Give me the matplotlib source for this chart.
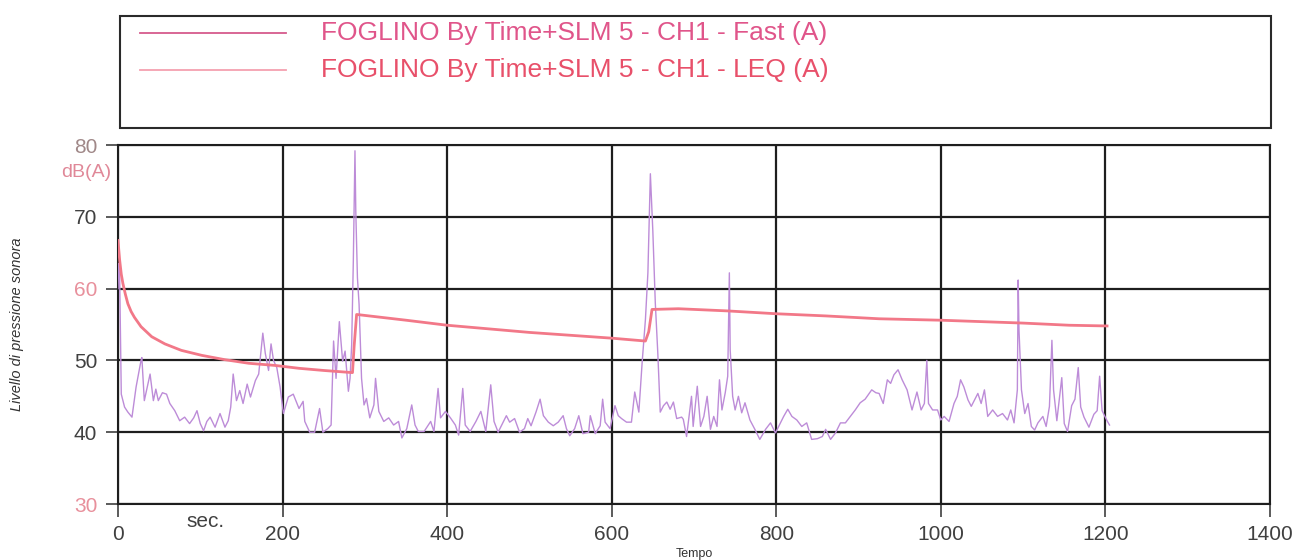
import numpy as np
import matplotlib
matplotlib.use("Agg")
import matplotlib.pyplot as plt
from matplotlib.lines import Line2D
from matplotlib.patches import Rectangle

plt.rcParams['font.family'] = ['Liberation Sans', 'DejaVu Sans']

# Serie "Fast (A)" : temps [s] et niveau [dB(A)]
fast_t = [0, 1, 2, 4, 8, 12, 17, 22, 28, 29, 32, 36, 39, 43, 46, 49, 54, 59, 63, 69,
          75, 81, 87, 92, 96, 100, 104, 108, 112, 118, 124, 130, 134, 137, 140, 144, 148, 152, 157, 161,
          167, 171, 176, 179, 183, 186, 189, 193, 197, 201, 207, 213, 220, 225, 227, 233, 239, 245, 249, 255,
          259, 262, 265, 269, 273, 276, 280, 282, 284, 286, 288, 289, 291, 293, 296, 299, 302, 306, 311, 313,
          317, 323, 329, 335, 341, 345, 351, 357, 361, 365, 372, 380, 384, 389, 392, 398, 404, 410, 414, 419,
          422, 428, 435, 441, 447, 453, 457, 462, 468, 472, 476, 482, 488, 494, 498, 502, 508, 513, 517, 523,
          529, 535, 541, 545, 549, 555, 560, 565, 572, 574, 580, 586, 589, 592, 598, 604, 608, 612, 618, 624,
          628, 633, 637, 641, 644, 647, 650, 653, 656, 659, 663, 667, 671, 675, 679, 685, 687, 691, 697, 699,
          704, 708, 712, 716, 720, 724, 728, 731, 734, 738, 741, 743, 744, 747, 750, 754, 758, 762, 768, 774,
          780, 787, 793, 799, 805, 809, 814, 819, 825, 831, 837, 843, 850, 856, 860, 866, 872, 878, 884, 890,
          896, 902, 908, 916, 921, 925, 930, 935, 939, 943, 948, 953, 959, 965, 971, 976, 980, 983, 985, 990,
          996, 1000, 1004, 1010, 1016, 1020, 1024, 1028, 1033, 1037, 1041, 1045, 1049, 1053, 1057, 1063, 1069, 1075, 1081, 1085,
          1089, 1093, 1094, 1095, 1098, 1102, 1106, 1110, 1114, 1118, 1124, 1128, 1132, 1135, 1137, 1141, 1147, 1150, 1154, 1159,
          1163, 1167, 1170, 1174, 1180, 1186, 1190, 1193, 1196, 1202, 1205]
fast_db = [60, 63.5, 62, 45.3, 43.5, 42.8, 42.1, 46.3, 50, 50.4, 44.4, 46.5, 48.1, 44.4, 46, 44.4, 45.5, 45.3, 44, 43,
           41.6, 42.1, 41.2, 42, 43, 41.2, 40.2, 41.5, 42.1, 40.7, 42.6, 40.7, 41.6, 43.5, 48.1, 44.4, 45.8, 44, 46.7, 44.9,
           47.2, 48.1, 53.8, 51, 48.6, 52.3, 50, 49, 46.3, 42.6, 44.9, 45.3, 43.3, 44.3, 41.5, 40, 40, 43.3, 40, 40.5,
           41, 52.7, 47.5, 55.4, 49.9, 51.3, 45.7, 47.5, 52.2, 63.8, 79.2, 70.8, 61.5, 57.8, 47.5, 43.8, 44.7, 42, 43.8, 47.5,
           42.9, 41.5, 42, 41, 41.5, 39.2, 40.5, 43.8, 41, 40.1, 40.1, 41.5, 40.1, 46.1, 42, 42.9, 42, 41, 39.6, 46.1,
           41, 40.1, 41.5, 42.9, 40.1, 46.6, 41.5, 40, 41.4, 42.3, 41.4, 41.9, 40, 40.5, 41.9, 40.9, 42.8, 44.6, 42.3, 41.4,
           40.9, 41.4, 42.3, 40.5, 39.5, 40.5, 42.3, 39.8, 40, 42.3, 39.8, 40.9, 44.6, 41.4, 40.5, 43.7, 42.3, 41.9, 41.4, 41.4,
           45.6, 42.8, 49.7, 55.7, 62.2, 76, 68, 58, 51.1, 42.8, 43.7, 44.2, 43.2, 44.2, 41.9, 42.1, 41.8, 39.4, 45, 40.8,
           46.4, 40.8, 42.2, 45, 40.4, 42.2, 40.8, 47.3, 43.1, 45.5, 47.8, 62.2, 51.5, 45, 43.1, 45, 42.7, 44.1, 41.7, 40.4,
           39, 40.4, 41.3, 39.9, 41.3, 42.2, 43.2, 42.2, 41.7, 40.8, 41.3, 39, 39.1, 39.4, 40.4, 39, 39.9, 41.3, 41.3, 42.2,
           43.1, 44.1, 44.6, 45.9, 45.5, 45.4, 44, 47.3, 46.8, 48, 48.7, 47.3, 45.9, 43.1, 45.6, 43.1, 44, 50, 44, 43.1,
           43.1, 41.7, 42.2, 41.5, 44, 45, 47.3, 46.3, 44.5, 43.6, 44.5, 45.4, 44, 45.9, 42.2, 43.1, 42.2, 42.6, 41.7, 43.1,
           41.3, 45.9, 61.2, 54.2, 45.9, 42.6, 44, 40.8, 40.3, 41.3, 42.2, 40.8, 43.6, 52.8, 45.9, 41.6, 47.6, 41.2, 40.1, 43.7,
           44.6, 49, 43.5, 42.1, 40.7, 42.5, 43, 47.8, 43, 41.6, 41]

# Serie "LEQ (A)"
leq_t = [0, 2, 4, 6, 9, 12, 16, 20, 28, 41, 57, 77, 102, 130, 159, 191, 220, 250, 285, 287,
         290, 350, 400, 450, 500, 550, 600, 641, 645, 649, 681, 740, 800, 860, 925, 1000, 1100, 1156, 1202]
leq_db = [66.7, 64, 62, 60.7, 59.2, 57.9, 56.8, 56, 54.7, 53.3, 52.3, 51.4, 50.7, 50.1, 49.6, 49.3, 48.9, 48.6, 48.3, 52,
          56.4, 55.6, 54.9, 54.4, 53.9, 53.5, 53.1, 52.7, 54, 57.1, 57.2, 56.9, 56.5, 56.2, 55.8, 55.6, 55.2, 54.9, 54.8]

x_ticks = [0, 200, 400, 600, 800, 1000, 1200, 1400]
y_ticks = [30, 40, 50, 60, 70, 80]
y_tick_colors = ['#e8909c', '#404040', '#404040', '#e8909c', '#404040', '#a08888']
labels = ["FOGLINO By Time+SLM 5 - CH1 - Fast (A)", "FOGLINO By Time+SLM 5 - CH1 - LEQ (A)"]

fig = plt.figure(figsize=(12.98, 5.6), dpi=100)
ax = fig.add_axes([0.0909, 0.1, 0.8875, 0.641])

ax.plot(fast_t, fast_db, color='#bd8cd8', lw=1.0, zorder=3)
ax.plot(leq_t, leq_db, color='#f27888', lw=2.0, zorder=4)

ax.set_xlim(0, 1400)
ax.set_ylim(30, 80)
ax.set_xticks(x_ticks)
ax.set_yticks(y_ticks)
ax.grid(True, color='#1e1e1e', lw=1.6)
for s in ax.spines.values():
    s.set_color('#1e1e1e')
    s.set_linewidth(1.5)
ax.tick_params(axis='both', direction='out', length=9, width=1.2, colors='#404040', labelsize=15, pad=6)
for lab, c in zip(ax.get_yticklabels(), y_tick_colors):
    lab.set_color(c)

ax.set_ylabel("Livello di pressione sonora", fontsize=10.5, style='italic', color='#333333', labelpad=36)
ax.set_xlabel("Tempo", fontsize=9, color='#333333', labelpad=3)
ax.text(106, 28.9, "sec.", fontsize=15, color='#404040', ha='center', va='top', clip_on=False)
ax.text(-8, 76.2, "dB(A)", fontsize=14, color='#e08898', ha='right', va='center', clip_on=False)

# Cadre de la légende
fig.patches.append(Rectangle((0.0925, 0.772), 0.887, 0.199, transform=fig.transFigure,
                             fill=False, edgecolor='#2a2a2a', lw=1.5))
leg_y = [0.941, 0.875]
leg_col = ['#d65a8c', '#f4a0b0']
txt_col = ['#e0558a', '#e8506a']
for yy, lc, tc, lab in zip(leg_y, leg_col, txt_col, labels):
    fig.add_artist(Line2D([0.108, 0.22], [yy, yy], transform=fig.transFigure, color=lc, lw=1.3))
    fig.text(0.247, yy, lab, fontsize=19, color=tc, va='center', ha='left')

fig.savefig("out.png", dpi=100)
